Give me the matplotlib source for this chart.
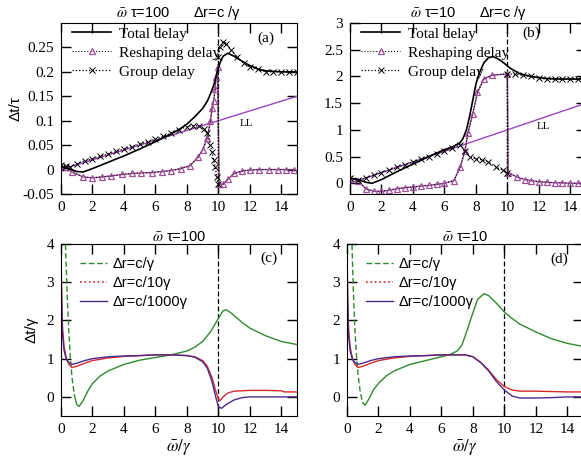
import matplotlib
matplotlib.use('Agg')
import matplotlib.pyplot as plt
import numpy as np

plt.rcParams['font.family'] = ['Liberation Serif', 'DejaVu Serif']
plt.rcParams['mathtext.fontset'] = 'stix'

# ---- panel (a): wbar*tau = 100, dr = c/gamma ----
a_total_x = [0, 0.5, 1.0, 1.4, 2, 3, 4, 5, 6, 7, 7.5, 8, 8.5, 9, 9.3, 9.5, 9.7, 9.9,
             10.1, 10.3, 10.6, 11, 11.5, 12, 12.5, 13, 14, 15]
a_total_y = [0.005, 0.002, -0.004, -0.005, 0.002, 0.015, 0.028, 0.042, 0.057, 0.073, 0.082,
             0.093, 0.108, 0.125, 0.14, 0.155, 0.172, 0.195, 0.218, 0.232, 0.238, 0.232,
             0.222, 0.213, 0.206, 0.202, 0.2, 0.2]
a_resh_x = [0, 0.4, 0.7, 1.4, 2.0, 2.6, 3.2, 3.9, 4.5, 5.1, 5.8, 6.4, 7.0, 7.6, 8.2, 8.7,
            9.0, 9.3, 9.5, 9.6, 9.7, 9.8, 9.85, 9.95, 10.05, 10.3, 10.6, 11.0, 11.5, 12.0,
            12.6, 13.2, 13.8, 14.3, 14.8]
a_resh_y = [0.008, 0.005, -0.005, -0.015, -0.017, -0.015, -0.013, -0.01, -0.008, -0.007,
            -0.006, -0.004, -0.002, 0.002, 0.008, 0.025, 0.04, 0.065, 0.1, 0.125, 0.14,
            0.165, 0.19, 0.21, -0.03, -0.03, -0.02, -0.008, -0.003, -0.001, 0, 0, 0, 0, 0]
a_group_x = [0, 0.3, 0.6, 1.0, 1.5, 2.0, 2.5, 3.0, 3.5, 4.0, 4.5, 5.0, 5.5, 6.0, 6.5, 7.0,
             7.5, 8.0, 8.4, 8.8, 9.1, 9.3, 9.5, 9.6, 9.7, 9.8, 9.9, 10.0, 10.0, 10.1, 10.3,
             10.5, 10.8, 11.2, 11.6, 12.0, 12.5, 13.0, 13.5, 14.0, 14.5, 15.0]
a_group_y = [0.01, 0.008, 0.005, 0.012, 0.018, 0.022, 0.027, 0.032, 0.037, 0.042, 0.047,
             0.052, 0.057, 0.062, 0.068, 0.075, 0.082, 0.088, 0.09, 0.089, 0.083, 0.075,
             0.05, 0.035, 0.02, 0.005, -0.015, -0.03, 0.23, 0.25, 0.262, 0.258, 0.245,
             0.23, 0.218, 0.21, 0.205, 0.2, 0.2, 0.2, 0.2, 0.2]
a_ll_x = [0, 15]
a_ll_y = [0, 0.15]

# ---- panel (b): wbar*tau = 10, dr = c/gamma ----
b_total_x = [0, 0.5, 1.0, 1.4, 2, 3, 4, 5, 6, 6.5, 7.0, 7.2, 7.4, 7.6, 7.8, 8.0, 8.2,
             8.5, 8.8, 9.1, 9.4, 9.7, 10.2, 10.8, 11.5, 12.5, 13.5, 15]
b_total_y = [0.1, 0.07, 0.02, 0.0, 0.07, 0.22, 0.36, 0.5, 0.63, 0.68, 0.76, 0.85, 1.0,
             1.25, 1.55, 1.85, 2.05, 2.25, 2.35, 2.37, 2.33, 2.27, 2.15, 2.05, 2.0, 1.96,
             1.95, 1.95]
b_resh_x = [0, 0.5, 1.0, 1.5, 2.0, 2.5, 3.0, 3.5, 4.0, 4.5, 5.0, 5.5, 6.0, 6.6, 7.0, 7.3,
            7.5, 7.8, 8.1, 8.5, 9.0, 10.0, 10.05, 10.6, 11.1, 11.5, 12.0, 12.5, 13.0, 13.5,
            14.0, 14.5, 15.0]
b_resh_y = [0.1, 0.05, -0.1, -0.15, -0.15, -0.13, -0.1, -0.08, -0.07, -0.05, -0.04, -0.02,
            0.0, 0.05, 0.3, 0.6, 0.95, 1.3, 1.7, 1.95, 2.02, 2.05, 0.2, 0.12, 0.07, 0.05,
            0.03, 0.02, 0.01, 0.01, 0.0, 0.0, 0.0]
b_group_x = [0, 0.5, 1.0, 1.5, 2.0, 2.5, 3.0, 3.5, 4.0, 4.5, 5.0, 5.5, 6.0, 6.5, 7.0, 7.3,
             7.6, 8.0, 8.4, 8.8, 9.3, 9.7, 10.0, 10.0, 10.5, 11.0, 11.5, 12.0, 12.5, 13.0,
             13.5, 14.0, 14.5, 15.0]
b_group_y = [0.1, 0.06, 0.1, 0.15, 0.2, 0.25, 0.3, 0.35, 0.4, 0.45, 0.5, 0.55, 0.6, 0.66,
             0.72, 0.6, 0.5, 0.46, 0.44, 0.4, 0.3, 0.25, 0.2, 2.05, 2.04, 2.02, 2.0, 1.97,
             1.95, 1.95, 1.95, 1.96, 1.96, 1.97]
b_ll_x = [0, 15]
b_ll_y = [0, 1.5]

# ---- panel (c): wbar*tau = 100 ----
c_g1_x = [0.25, 0.3, 0.4, 0.5, 0.6, 0.7, 0.85, 1.0, 1.15, 1.4, 1.7, 2.0, 2.5, 3, 4, 5, 6,
          7, 8, 8.5, 9, 9.5, 10, 10.3, 10.5, 10.8, 11.5, 12, 13, 14, 15]
c_g1_y = [4.2, 3.8, 2.6, 1.7, 1.0, 0.5, 0.05, -0.2, -0.25, -0.1, 0.15, 0.35, 0.55, 0.68,
          0.85, 0.96, 1.03, 1.1, 1.2, 1.3, 1.45, 1.7, 2.05, 2.25, 2.28, 2.2, 1.95, 1.8,
          1.6, 1.45, 1.37]
c_g10_x = [0.02, 0.05, 0.1, 0.2, 0.35, 0.5, 0.7, 1.0, 1.5, 2, 3, 4, 5, 6, 7, 8, 8.5, 9,
           9.3, 9.6, 9.8, 10, 10.1, 10.3, 10.6, 11, 12, 13, 14, 14.2, 15]
c_g10_y = [3.3, 2.5, 1.8, 1.3, 1.0, 0.85, 0.77, 0.8, 0.88, 0.95, 1.02, 1.06, 1.08, 1.1,
           1.1, 1.08, 1.05, 0.95, 0.8, 0.5, 0.2, -0.05, -0.1, 0.0, 0.1, 0.15, 0.17, 0.17,
           0.16, 0.13, 0.13]
c_g1000_x = [0.02, 0.05, 0.1, 0.2, 0.35, 0.5, 0.7, 1.0, 1.5, 2, 3, 4, 5, 6, 7, 8, 8.5, 9,
             9.3, 9.6, 9.8, 10, 10.2, 10.5, 11, 11.5, 12, 15]
c_g1000_y = [3.0, 2.3, 1.6, 1.2, 0.98, 0.9, 0.85, 0.88, 0.95, 1.0, 1.05, 1.07, 1.08, 1.1,
             1.1, 1.08, 1.04, 0.92, 0.75, 0.4, 0.05, -0.25, -0.3, -0.2, -0.08, -0.02, 0.0,
             0.0]

# ---- panel (d): wbar*tau = 10 ----
d_g1_x = [0.3, 0.4, 0.5, 0.6, 0.7, 0.85, 1.0, 1.15, 1.4, 1.7, 2, 2.5, 3, 4, 5, 6, 6.5, 7,
          7.3, 7.6, 8.0, 8.3, 8.7, 9.0, 9.5, 10, 10.5, 11, 12, 13, 14, 15]
d_g1_y = [4.2, 2.8, 1.8, 1.1, 0.6, 0.1, -0.15, -0.22, -0.05, 0.2, 0.35, 0.55, 0.68, 0.85,
          0.95, 1.05, 1.1, 1.2, 1.35, 1.7, 2.2, 2.55, 2.7, 2.65, 2.45, 2.22, 2.05, 1.9,
          1.7, 1.52, 1.4, 1.32]
d_g10_x = [0.02, 0.05, 0.1, 0.2, 0.35, 0.5, 0.7, 1.0, 1.5, 2, 3, 4, 5, 6, 7, 7.5, 8, 8.5,
           9, 9.5, 10, 10.5, 11, 12, 13, 14, 15]
d_g10_y = [3.3, 2.5, 1.8, 1.3, 1.0, 0.85, 0.77, 0.8, 0.88, 0.95, 1.02, 1.06, 1.08, 1.1,
           1.1, 1.1, 1.05, 0.9, 0.7, 0.45, 0.27, 0.18, 0.15, 0.15, 0.14, 0.13, 0.13]
d_g1000_x = [0.02, 0.05, 0.1, 0.2, 0.35, 0.5, 0.7, 1.0, 1.5, 2, 3, 4, 5, 6, 7, 7.5, 8, 8.5,
             9, 9.5, 10, 10.5, 11, 12, 13, 14, 15]
d_g1000_y = [3.0, 2.3, 1.6, 1.2, 0.98, 0.9, 0.85, 0.88, 0.95, 1.0, 1.05, 1.07, 1.08, 1.1,
             1.1, 1.1, 1.05, 0.9, 0.68, 0.4, 0.18, 0.02, -0.03, -0.03, -0.02, 0.0, 0.0]

PURPLE_LL = '#9b45c0'
MAUVE = '#a0509a'
GREEN = '#2f8a2f'
RED = '#d42a2a'
INDIGO = '#4b2a8c'

W, H = 581, 457
fig = plt.figure(figsize=(W / 100, H / 100), dpi=100)


def box(l, r, t, b):
    return [l / W, 1 - b / H, (r - l) / W, (b - t) / H]


ax_a = fig.add_axes(box(61, 297, 23, 194))
ax_b = fig.add_axes(box(350, 586, 23, 194))
ax_c = fig.add_axes(box(61, 297, 244, 416))
ax_d = fig.add_axes(box(347, 583, 244, 416))

for ax in (ax_a, ax_b, ax_c, ax_d):
    ax.set_xlim(0, 15)
    ax.set_xticks(np.arange(0, 15, 2))
    ax.tick_params(direction='in', length=7, width=1, top=True, right=True,
                   labelsize=11, pad=5)
    ax.axvline(10, color='black', ls=(0, (4, 2)), lw=0.9)


def delay_panel(ax, tx, ty, rx, ry, gx, gy, lx, ly):
    ax.plot(lx, ly, color=PURPLE_LL, lw=1)
    ax.plot(rx, ry, color=MAUVE, lw=1)
    ax.plot(rx, ry, ls=':', color='black', lw=0.8, marker='^', ms=5, mfc='none',
            mec=MAUVE, mew=0.9, label='Reshaping delay')
    ax.plot(gx, gy, ls=':', color='black', lw=0.9, marker='x', ms=4, mew=0.7,
            label='Group delay')
    ax.plot(tx, ty, color='black', lw=1.2, label='Total delay')
    h, l = ax.get_legend_handles_labels()
    order = [2, 0, 1]
    ax.legend([h[i] for i in order], [l[i] for i in order], loc='upper left',
              bbox_to_anchor=(0.0, 1.04), frameon=False, fontsize=11,
              handlelength=2.6, handletextpad=0.5, labelspacing=0.35,
              borderaxespad=0.3)


delay_panel(ax_a, a_total_x, a_total_y, a_resh_x, a_resh_y, a_group_x, a_group_y,
            a_ll_x, a_ll_y)
ax_a.set_ylim(-0.05, 0.3)
ax_a.set_yticks([-0.05, 0, 0.05, 0.1, 0.15, 0.2, 0.25])
ax_a.set_yticklabels(['-0.05', '0', '0.05', '0.1', '0.15', '0.2', '0.25'])
ax_a.text(11.8, 0.094, 'LL', fontsize=8, ha='center', va='center')
ax_a.text(13.0, 0.268, '(a)', fontsize=11, ha='center', va='center')
ax_a.set_title(r'$\bar{\omega}$ τ=100      Δr=c /γ', fontsize=10.5,
               family='Liberation Sans', pad=4)
ax_a.set_ylabel('Δt/τ', family='Liberation Sans', fontsize=11)
ax_a.yaxis.set_label_coords(-0.165, 0.5)

delay_panel(ax_b, b_total_x, b_total_y, b_resh_x, b_resh_y, b_group_x, b_group_y,
            b_ll_x, b_ll_y)
ax_b.set_ylim(-0.2, 3)
ax_b.set_yticks([0, 0.5, 1, 1.5, 2, 2.5, 3])
ax_b.set_yticklabels(['0', '0.5', '1', '1.5', '2', '2.5', '3'])
ax_b.text(12.3, 1.07, 'LL', fontsize=8, ha='center', va='center')
ax_b.text(11.5, 2.8, '(b)', fontsize=11, ha='center', va='center')
ax_b.set_title(r'$\bar{\omega}$ τ=10      Δr=c /γ', fontsize=10.5,
               family='Liberation Sans', pad=4)


def gamma_panel(ax, g1x, g1y, g10x, g10y, g1000x, g1000y):
    split = 7
    ax.plot(g1x[:split], g1y[:split], color=GREEN, ls=(0, (4, 2)), lw=1)
    ax.plot(g1x[split - 1:], g1y[split - 1:], color=GREEN, lw=1)
    ax.plot(g10x, g10y, color=RED, lw=1)
    ax.plot(g1000x, g1000y, color=INDIGO, lw=1)
    hg, = ax.plot([], [], color=GREEN, ls=(0, (4, 2)), lw=1)
    hr, = ax.plot([], [], color=RED, ls=':', lw=1.2)
    hi, = ax.plot([], [], color=INDIGO, lw=1)
    ax.legend([hg, hr, hi], ['Δr=c/γ', 'Δr=c/10γ', 'Δr=c/1000γ'],
              loc='upper left', bbox_to_anchor=(0.027, 1.0), frameon=False,
              prop={'family': 'Liberation Sans', 'size': 10.5},
              handlelength=1.8, handletextpad=0.4, labelspacing=0.35)
    ax.set_ylim(-0.5, 4)
    ax.set_yticks([0, 1, 2, 3, 4])
    ax.set_xlabel(r'$\bar{\omega}/\gamma$', fontsize=12, labelpad=1)


gamma_panel(ax_c, c_g1_x, c_g1_y, c_g10_x, c_g10_y, c_g1000_x, c_g1000_y)
ax_c.text(13.2, 3.64, '(c)', fontsize=11, ha='center', va='center')
ax_c.set_title(r'$\bar{\omega}$ τ=100', fontsize=10.5, family='Liberation Sans', pad=2)
ax_c.set_ylabel('Δt/γ', family='Liberation Sans', fontsize=11)
ax_c.yaxis.set_label_coords(-0.097, 0.5)

gamma_panel(ax_d, d_g1_x, d_g1_y, d_g10_x, d_g10_y, d_g1000_x, d_g1000_y)
ax_d.text(13.5, 3.6, '(d)', fontsize=11, ha='center', va='center')
ax_d.set_title(r'$\bar{\omega}$ τ=10', fontsize=10.5, family='Liberation Sans', pad=2)

fig.savefig('out.png', dpi=100)
